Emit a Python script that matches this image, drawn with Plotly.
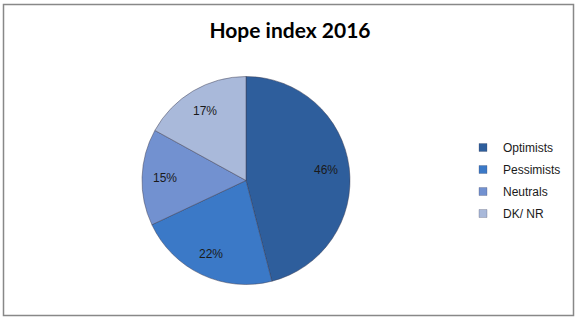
import math
import plotly.graph_objects as go

labels = ["Optimists", "Pessimists", "Neutrals", "DK/ NR"]
values = [46, 22, 15, 17]
colors = ["#2e5e9c", "#3b79c7", "#7291d0", "#a9b9da"]

W, H = 580, 321
cx, cy, R = 246, 180.5, 104  # pie centre / radius in pixels

fig = go.Figure()
fig.add_trace(go.Pie(
    labels=labels,
    values=values,
    sort=False,
    direction="clockwise",
    rotation=0,
    marker=dict(colors=colors, line=dict(color="rgba(60,60,80,0.6)", width=0.8)),
    textinfo="none",
    showlegend=False,
    domain=dict(x=[(cx - R) / W, (cx + R) / W], y=[1 - (cy + R) / H, 1 - (cy - R) / H]),
    hoverinfo="label+percent",
))

# legend entries (small square swatches), one group each for spacing
for lab, col in zip(labels, colors):
    fig.add_trace(go.Scatter(
        x=[None], y=[None], mode="markers", name=lab,
        legendgroup=lab,
        marker=dict(symbol="square", size=8, color=col,
                    line=dict(color="rgba(60,60,80,0.5)", width=0.5)),
    ))

# percent labels placed along each slice's mid-angle
total = sum(values)
annotations = []
cum = 0
for v in values:
    mid = (cum + v / 2) / total * 2 * math.pi
    cum += v
    r = 0.78 * R
    px = cx + r * math.sin(mid)
    py = cy - r * math.cos(mid)
    annotations.append(dict(
        x=px / W, y=1 - py / H, xref="paper", yref="paper",
        xanchor="center", yanchor="middle",
        text=f"{round(v / total * 100)}%", showarrow=False,
        font=dict(family="Liberation Sans, Arial", size=12, color="#1a1a1a"),
    ))

fig.update_layout(
    width=W, height=H,
    margin=dict(l=0, r=0, t=0, b=0),
    paper_bgcolor="white",
    plot_bgcolor="white",
    xaxis=dict(visible=False),
    yaxis=dict(visible=False),
    title=dict(
        text="<b>Hope index 2016</b>",
        x=0.5, xanchor="center", xref="paper",
        y=1 - 31 / H, yanchor="middle", yref="container",
        font=dict(family="Lato, Carlito, Calibri, sans-serif", size=21, color="black"),
    ),
    legend=dict(
        x=463 / W, xanchor="left",
        y=1 - 133 / H, yanchor="top",
        font=dict(family="Liberation Sans, Arial", size=12, color="#1a1a1a"),
        tracegroupgap=3,
        itemwidth=30,
        bgcolor="rgba(0,0,0,0)",
    ),
    annotations=annotations,
    shapes=[dict(
        type="rect", xref="paper", yref="paper",
        x0=3.5 / W, x1=573.5 / W, y0=1 - 315.5 / H, y1=1 - 4.5 / H,
        line=dict(color="#888888", width=1.5),
    )],
)

fig.write_html("out.html")
